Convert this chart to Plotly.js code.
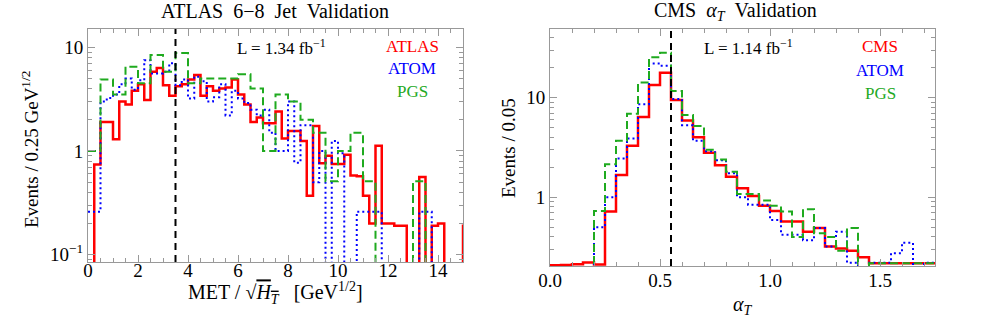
<!DOCTYPE html>
<html><head><meta charset="utf-8">
<script src="https://cdn.plot.ly/plotly-3.0.1.min.js"></script>
<style>html,body{margin:0;padding:0;background:#fff}</style>
</head><body>
<div id="chart" style="width:990px;height:320px"></div>
<script>
// ---------- Left panel: ATLAS 6-8 jet, MET/sqrt(HT), bins of 0.25 ----------
const atlasBinWidth = 0.25;
const atlasValues = [0, 0.74, 1.9, 1.9, 1.3, 3.0, 2.8, 3.8, 4.4, 3.1,
  5.8, 6.3, 4.3, 3.4, 4.2, 4.4, 4.9, 5.4, 3.4, 4.2,
  3.8, 4.0, 4.1, 4.9, 3.5, 2.8, 1.9, 2.1, 1.85, 1.85,
  2.4, 1.32, 1.56, 1.56, 1.25, 0.37, 1.74, 0.76, 0.9, 0.75,
  0.75, 0.92, 0.58, 0.57, 0.37, 0.2, 1.12, 0.2, 0.2, 0.19,
  0.19, 0, 0, 0.56, 0, 0.19, 0.2, 0, 0, 0, 0.19];
const atlasAtomValues = [0.26, 0.26, 3.0, 3.25, 3.5, 4.4, 5.0, 3.9, 4.8, 7.5,
  5.6, 5.6, 5.8, 7.0, 4.3, 4.9, 3.2, 5.2, 4.7, 3.0,
  3.3, 4.4, 2.2, 3.8, 3.2, 2.9, 2.5, 2.2, 2.5, 1.5,
  1.0, 1.0, 3.0, 0.77, 1.77, 1.77, 0.5, 1.0, 0, 1.25,
  0.95, 0, 0, 0.26, 0.26, 0.26, 0.26, 0, 0, 0,
  0, 0, 0, 0.26, 0.26, 0, 0, 0, 0, 0, 0];
const atlasPgsValues = [1.0, 1.0, 4.9, 4.9, 3.5, 3.5, 6.5, 6.5, 4.5, 4.5,
  8.4, 8.4, 5.8, 5.8, 8.8, 8.8, 4.5, 4.5, 5.0, 5.0,
  5.0, 5.0, 5.0, 5.0, 5.5, 5.5, 4.0, 4.0, 1.0, 1.0,
  3.5, 3.5, 3.0, 3.0, 2.0, 2.0, 1.5, 1.5, 0.51, 0.51,
  1.0, 1.0, 1.5, 1.5, 0.51, 0.51, 0, 0, 0, 0,
  0, 0, 0.51, 0.51, 0, 0, 0, 0, 0, 0, 0];
const atlasXTicks = [0, 2, 4, 6, 8, 10, 12, 14];
const atlasYTicks = [0.1, 1, 10];
const atlasYTickText = ['10<sup>−1</sup>', '1', '10'];

// ---------- Right panel: CMS alpha_T, bins of 0.05 ----------
const cmsBinWidth = 0.05;
const cmsValues = [0.207, 0.209, 0.213, 0.221, 0.211, 0.72, 1.67, 3.3, 6.4, 13.4,
  17.8, 9.5, 5.9, 4.0, 2.8, 2.1, 1.61, 1.23, 1.03, 0.82,
  0.73, 0.57, 0.57, 0.45, 0.49, 0.32, 0.305, 0.29, 0.25, 0.218,
  0.218, 0.218, 0.218, 0.218, 0.218];
const cmsAtomValues = [0, 0, 0, 0, 0.5, 1.0, 2.45, 3.9, 8.6, 22,
  21, 9.7, 5.3, 3.7, 2.9, 2.35, 1.74, 1.0, 0.84, 0.84,
  0.59, 0.42, 0.42, 0.37, 0.49, 0.32, 0.45, 0.22, 0, 0.22,
  0.22, 0.274, 0.35, 0, 0.22];
const cmsPgsValues = [0, 0, 0, 0, 0.73, 2.15, 3.7, 6.9, 14.2, 25.5,
  28.3, 11.7, 6.7, 5.2, 3.0, 2.4, 1.8, 1.08, 1.08, 0.93,
  0.82, 0.72, 0.4, 0.76, 0.436, 0.4, 0.29, 0.49, 0, 0.218,
  0.218, 0.218, 0.218, 0.218, 0.218];
const cmsXTicks = [0, 0.5, 1.0, 1.5];
const cmsXTickText = ['0.0', '0.5', '1.0', '1.5'];
const cmsYTicks = [1, 10];
const cmsYTickText = ['1', '10'];

const cutValues = [3.5, 0.55];

const RED = '#ff0000', BLUE = '#0000ff', GREEN = '#1faa1f';
const FONT = 'Liberation Serif, Times New Roman, serif';
const SP = '\u00a0';

function stepTrace(values, width, xa, ya, color, dash, lw) {
  const floorVal = 1e-3; // empty bins fall below the visible range
  const x = [], y = [];
  values.forEach((v, i) => { x.push(i * width); y.push(v > 0 ? v : floorVal); });
  const last = values[values.length - 1];
  x.push(values.length * width); y.push(last > 0 ? last : floorVal);
  return {type: 'scatter', mode: 'lines', x: x, y: y, xaxis: xa, yaxis: ya,
    line: {shape: 'hv', color: color, dash: dash, width: lw},
    hoverinfo: 'skip', showlegend: false};
}

const minorLog = [];
for (let d = -2; d <= 2; d++) for (let m = 2; m <= 9; m++) minorLog.push(m * Math.pow(10, d));

const traces = [
  stepTrace(atlasValues, atlasBinWidth, 'x', 'y', RED, 'solid', 2.5),
  stepTrace(atlasAtomValues, atlasBinWidth, 'x', 'y', BLUE, '2px,3px', 2),
  stepTrace(atlasPgsValues, atlasBinWidth, 'x', 'y', GREEN, '8px,4px', 2),
  stepTrace(cmsValues, cmsBinWidth, 'x2', 'y2', RED, 'solid', 2.5),
  stepTrace(cmsAtomValues, cmsBinWidth, 'x2', 'y2', BLUE, '2px,3px', 2),
  stepTrace(cmsPgsValues, cmsBinWidth, 'x2', 'y2', GREEN, '8px,4px', 2)
];

const tickFont = {family: FONT, size: 19, color: '#000'};
const axisCommon = {
  showline: true, linecolor: '#999', linewidth: 1, mirror: 'allticks',
  ticks: 'inside', ticklen: 7, tickcolor: '#999', tickwidth: 1,
  showgrid: false, zeroline: false, tickfont: tickFont, fixedrange: true
};

const W = 990, H = 320;
const layout = {
  width: W, height: H,
  margin: {l: 0, r: 0, t: 0, b: 0},
  paper_bgcolor: '#fff', plot_bgcolor: '#fff',
  showlegend: false,
  font: {family: FONT, color: '#000'},
  xaxis: Object.assign({}, axisCommon, {
    domain: [88 / W, 463 / W], range: [0, 15], anchor: 'y',
    tickmode: 'array', tickvals: atlasXTicks, ticklabelstandoff: -9,
    minor: {dtick: 0.5, tick0: 0, ticks: 'inside', ticklen: 4, tickcolor: '#999'}
  }),
  yaxis: Object.assign({}, axisCommon, {
    type: 'log', domain: [1 - 262 / H, 1 - 29 / H], range: [Math.log10(0.085), Math.log10(15)], anchor: 'x',
    tickmode: 'array', tickvals: atlasYTicks, ticktext: atlasYTickText,
    minor: {tickmode: 'array', tickvals: minorLog, ticks: 'inside', ticklen: 4, tickcolor: '#999'}
  }),
  xaxis2: Object.assign({}, axisCommon, {
    domain: [550 / W, 935 / W], range: [0, 1.75], anchor: 'y2',
    tickmode: 'array', tickvals: cmsXTicks, ticktext: cmsXTickText, ticklabelstandoff: -3,
    minor: {dtick: 0.1, tick0: 0, ticks: 'inside', ticklen: 4, tickcolor: '#999'}
  }),
  yaxis2: Object.assign({}, axisCommon, {
    type: 'log', domain: [1 - 266 / H, 1 - 29 / H], range: [Math.log10(0.204), Math.log10(49)], anchor: 'x2',
    tickmode: 'array', tickvals: cmsYTicks, ticktext: cmsYTickText,
    minor: {tickmode: 'array', tickvals: minorLog, ticks: 'inside', ticklen: 4, tickcolor: '#999'}
  }),
  shapes: [
    {type: 'line', xref: 'x', yref: 'y domain', x0: cutValues[0], x1: cutValues[0], y0: 0, y1: 1,
      line: {color: '#000', width: 2, dash: '7px,5px'}},
    {type: 'line', xref: 'x2', yref: 'y2 domain', x0: cutValues[1], x1: cutValues[1], y0: 0, y1: 1,
      line: {color: '#000', width: 2, dash: '7px,5px'}}
  ],
  annotations: [
    {text: 'ATLAS' + SP + SP + '6−8' + SP + SP + 'Jet' + SP + SP + 'Validation', x: 275 / W, y: 1 - 11 / H, font: {size: 20}},
    {text: 'CMS ' + SP + '<i>α</i><sub><i>T</i></sub>' + SP + SP + 'Validation', x: 735 / W, y: 1 - 11 / H, font: {size: 20}},
    {text: 'L = 1.34 fb<sup>−1</sup>', x: 281 / W, y: 1 - 47 / H, font: {size: 17}},
    {text: 'ATLAS', x: 412 / W, y: 1 - 46 / H, font: {size: 17, color: RED}},
    {text: 'ATOM', x: 412 / W, y: 1 - 69 / H, font: {size: 17, color: BLUE}},
    {text: 'PGS', x: 412 / W, y: 1 - 91 / H, font: {size: 17, color: GREEN}},
    {text: 'L = 1.14 fb<sup>−1</sup>', x: 748 / W, y: 1 - 47 / H, font: {size: 17}},
    {text: 'CMS', x: 880 / W, y: 1 - 47 / H, font: {size: 17, color: RED}},
    {text: 'ATOM', x: 880 / W, y: 1 - 70 / H, font: {size: 17, color: BLUE}},
    {text: 'PGS', x: 880 / W, y: 1 - 93 / H, font: {size: 17, color: GREEN}},
    {text: 'MET / √<span style="text-decoration:overline"><i>H</i><sub><i>T</i></sub></span>' + SP + SP + SP + '[GeV<sup>1/2</sup>]', x: 275 / W, y: 1 - 293 / H, font: {size: 20}},
    {text: '<i>α</i><sub><i>T</i></sub>', x: 743 / W, y: 1 - 305 / H, font: {size: 20}},
    {text: 'Events / 0.25 GeV<sup>1/2</sup>', x: 30 / W, y: 1 - 150 / H, textangle: -90, font: {size: 19}},
    {text: 'Events / 0.05', x: 508 / W, y: 1 - 148 / H, textangle: -90, font: {size: 19}}
  ].map(a => Object.assign({xref: 'paper', yref: 'paper', showarrow: false, xanchor: 'center', yanchor: 'middle'}, a))
};

Plotly.newPlot('chart', traces, layout, {displayModeBar: false, staticPlot: true});
</script>
</body></html>
